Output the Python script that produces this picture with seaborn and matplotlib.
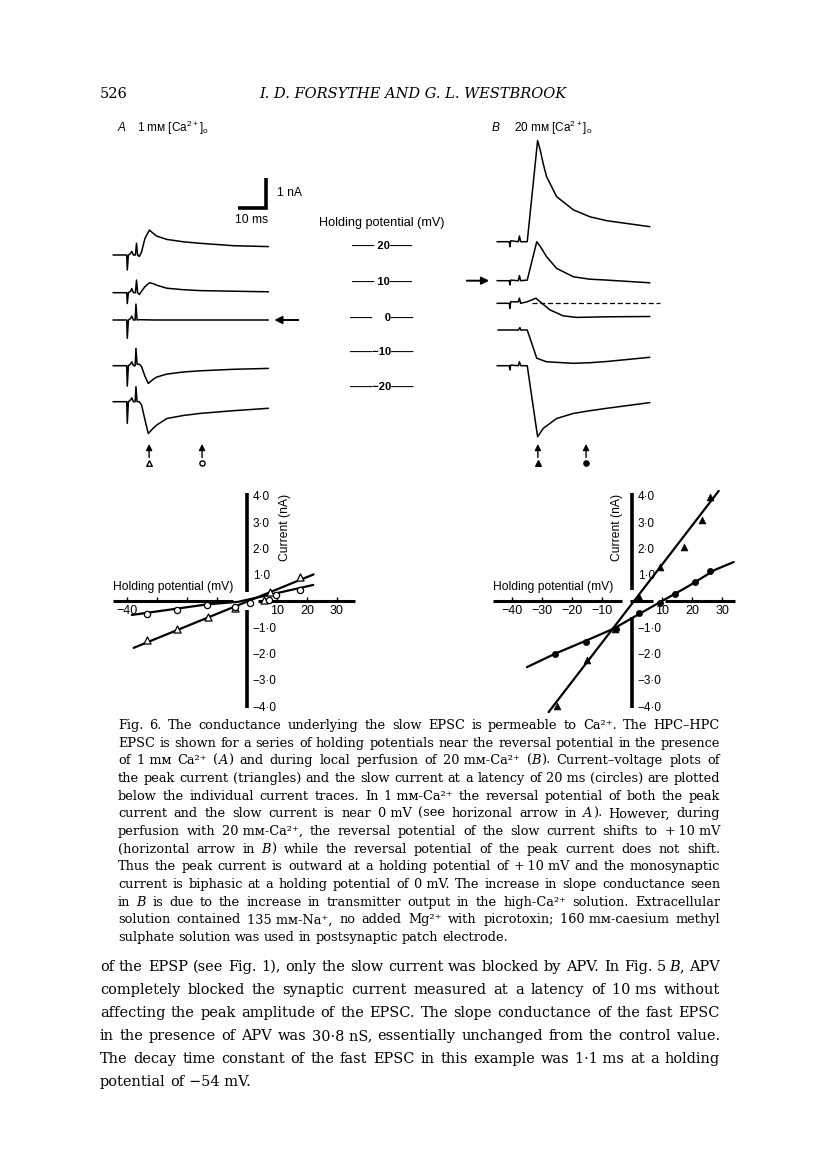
import numpy as np
import matplotlib
matplotlib.use("Agg")
import matplotlib.pyplot as plt
import seaborn as sns

sns.set_style("white")
plt.rcParams['font.family'] = ['Liberation Sans', 'DejaVu Sans']
plt.rcParams['mathtext.default'] = 'regular'
plt.rcParams['axes.unicode_minus'] = True
for k in ['text.color', 'axes.labelcolor', 'xtick.color', 'ytick.color']:
    plt.rcParams[k] = 'black'

# ---------------- data ----------------
HOLD_MV = [20, 10, 0, -10, -20]

# panel A traces, 1 mM Ca (time ms, current nA rel. to baseline)
A20_T = [0, 4.9, 5.1, 5.5, 6.3, 6.7, 7.3, 8.0, 8.4, 8.8, 9.4, 10.2, 11.4, 13.0, 14.4, 15.6, 19.2, 25.1, 31.1, 43.0, 55.5]
A20_I = [0, 0, -0.5, 0, 0.05, 0.12, 0, 0, 0.39, 0, -0.05, 0.1, 0.55, 0.83, 0.72, 0.63, 0.52, 0.44, 0.39, 0.31, 0.28]
A10_T = [0, 4.9, 5.1, 5.5, 6.3, 6.7, 7.3, 8.0, 8.4, 8.8, 9.4, 10.2, 11.4, 13.0, 14.4, 15.6, 19.2, 25.1, 31.1, 43.0, 55.5]
A10_I = [0, 0, -0.36, 0, 0.05, 0.14, 0, 0, 0.42, 0, -0.06, 0.05, 0.2, 0.33, 0.3, 0.25, 0.15, 0.1, 0.07, 0.05, 0.03]
A0_T = [0, 4.9, 5.1, 5.5, 6.3, 6.7, 7.3, 7.9, 8.2, 8.6, 9.4, 15.0, 25.0, 40.0, 55.5]
A0_I = [0, 0, -0.61, 0, 0.05, 0.13, 0, 0, 0.53, 0, 0.01, 0.0, 0.0, 0.0, 0.0]
AM10_T = [0, 4.9, 5.1, 5.5, 6.3, 6.7, 7.3, 7.9, 8.2, 8.6, 9.4, 10.2, 11.4, 12.6, 14.4, 15.6, 19.2, 25.1, 31.1, 43.0, 55.5]
AM10_I = [0, 0, -0.68, 0, 0.06, 0.13, 0, 0, 0.58, 0.05, 0.05, -0.03, -0.35, -0.59, -0.45, -0.38, -0.28, -0.21, -0.17, -0.12, -0.09]
AM20_T = [0, 4.9, 5.1, 5.5, 6.3, 6.7, 7.3, 7.9, 8.2, 8.6, 9.4, 10.2, 11.4, 12.6, 14.4, 15.6, 19.2, 25.1, 31.1, 43.0, 55.5]
AM20_I = [0, 0, -0.72, 0, 0.06, 0.13, 0, 0, 0.5, 0, 0, -0.11, -0.6, -1.06, -0.88, -0.78, -0.56, -0.46, -0.39, -0.3, -0.22]

# panel B traces, 20 mM Ca
B20_T = [0, 4.4, 4.6, 4.9, 7.6, 8.0, 8.45, 10.8, 14.5, 15.4, 16.5, 17.7, 21.3, 27.3, 33.2, 39.2, 54.6]
B20_I = [0, 0, -0.17, 0.03, 0, 0.19, 0, 0, 3.37, 3.07, 2.6, 2.17, 1.5, 1.06, 0.83, 0.7, 0.5]
B10_T = [0, 4.4, 4.6, 4.9, 7.6, 8.0, 8.45, 10.8, 14.2, 15.4, 17.7, 21.3, 27.3, 33.2, 39.2, 54.6]
B10_I = [0, 0, -0.14, 0.02, 0, 0.17, 0, 0.02, 1.3, 1.15, 0.8, 0.41, 0.13, 0.05, 0.02, -0.07]
B0_T = [0, 4.4, 4.6, 4.9, 7.6, 8.0, 8.45, 10.8, 13.9, 15.4, 18.9, 23.7, 28.5, 39.2, 54.6]
B0_I = [0, 0, -0.17, 0.05, 0.05, 0.17, 0, 0.05, 0.17, 0.05, -0.22, -0.42, -0.47, -0.45, -0.44]
BM10_T = [0.3, 7.6, 8.2, 8.45, 10.8, 12.4, 14.2, 17.7, 27.3, 33.2, 39.2, 54.6]
BM10_I = [0, 0, 0.08, 0, 0, -0.44, -0.94, -1.06, -1.11, -1.09, -1.05, -0.91]
BM20_T = [0, 4.4, 4.6, 4.9, 7.6, 8.0, 8.45, 10.8, 14.5, 16.5, 21.3, 27.3, 33.2, 39.2, 54.6]
BM20_I = [0, 0, -0.14, 0.02, 0, 0.13, 0, 0, -2.37, -2.09, -1.76, -1.59, -1.5, -1.42, -1.23]

# measurement latencies marked by arrows (ms on the trace time base)
A_PEAK_T, A_SLOW_T = 12.9, 31.8
B_PEAK_T, B_SLOW_T = 14.6, 31.8

# current-voltage data (mV, nA)
IVA_TRI_V = [-33.3, -23.3, -13.1, -3.9, 5.6, 7.8, 17.6]
IVA_TRI_I = [-1.47, -1.05, -0.61, -0.25, 0.05, 0.35, 0.91]
IVA_CIR_V = [-33.3, -23.3, -13.3, -3.9, 1.1, 7.2, 9.8, 17.8]
IVA_CIR_I = [-0.51, -0.35, -0.16, -0.22, -0.08, 0.05, 0.22, 0.41]
IVA_TRI_FIT_V = [-37.8, 22.2]
IVA_TRI_FIT_I = [-1.78, 1.01]
IVA_CIR_FIT_V = [-38.4, -13.4, -2.9, 22.1]
IVA_CIR_FIT_I = [-0.53, -0.13, -0.03, 0.61]

IVB_TRI_V = [-25.0, -15.0, -5.6, 2.2, 9.4, 17.4, 23.3, 26.1]
IVB_TRI_I = [-4.0, -2.25, -1.05, 0.15, 1.29, 2.05, 3.06, 3.95]
IVB_CIR_V = [-25.6, -15.2, -5.2, 2.2, 9.4, 14.2, 21.1, 25.9]
IVB_CIR_I = [-2.03, -1.56, -1.05, -0.46, -0.08, 0.28, 0.72, 1.14]
IVB_TRI_FIT_V = [-27.8, 28.9]
IVB_TRI_FIT_I = [-4.22, 4.18]
IVB_CIR_FIT_V = [-35.0, -25.6, -15.0, -6.1, 0.6, 9.4, 18.3, 27.8, 33.9]
IVB_CIR_FIT_I = [-2.51, -2.0, -1.49, -1.05, -0.61, -0.04, 0.53, 1.19, 1.48]

IV_YTICKS = [-4, -3, -2, -1, 1, 2, 3, 4]
IVA_XTICKS = [-40, -30, -20, -10, 10, 20, 30]
IVA_XLABELS = ['\u221240', '', '', '', '10', '20', '30']
IVB_XTICKS = [-40, -30, -20, -10, 10, 20, 30]
IVB_XLABELS = ['\u221240', '\u221230', '\u221220', '\u221210', '10', '20', '30']

CAPTION = [
    "Fig. 6. The conductance underlying the slow EPSC is permeable to Ca\u00b2\u207a. The HPC\u2013HPC",
    "EPSC is shown for a series of holding potentials near the reversal potential in the presence",
    "of 1\u00a0m\u043c Ca\u00b2\u207a (_A_) and during local perfusion of 20\u00a0m\u043c-Ca\u00b2\u207a (_B_). Current\u2013voltage plots of",
    "the peak current (triangles) and the slow current at a latency of 20\u00a0ms (circles) are plotted",
    "below the individual current traces. In 1\u00a0m\u043c-Ca\u00b2\u207a the reversal potential of both the peak",
    "current and the slow current is near 0\u00a0mV (see horizonal arrow in _A_). However, during",
    "perfusion with 20\u00a0m\u043c-Ca\u00b2\u207a, the reversal potential of the slow current shifts to +\u200910\u00a0mV",
    "(horizontal arrow in _B_) while the reversal potential of the peak current does not shift.",
    "Thus the peak current is outward at a holding potential of +\u200910\u00a0mV and the monosynaptic",
    "current is biphasic at a holding potential of 0\u00a0mV. The increase in slope conductance seen",
    "in _B_ is due to the increase in transmitter output in the high-Ca\u00b2\u207a solution. Extracellular",
    "solution contained 135\u00a0m\u043c-Na\u207a, no added Mg\u00b2\u207a with picrotoxin; 160\u00a0m\u043c-caesium methyl",
    "sulphate solution was used in postsynaptic patch electrode.",
]
BODY = [
    "of the EPSP (see Fig. 1), only the slow current was blocked by APV. In Fig. 5\u2009_B_, APV",
    "completely blocked the synaptic current measured at a latency of 10\u00a0ms without",
    "affecting the peak amplitude of the EPSC. The slope conductance of the fast EPSC",
    "in the presence of APV was 30\u00b78\u00a0nS, essentially unchanged from the control value.",
    "The decay time constant of the fast EPSC in this example was 1\u00b71\u00a0ms at a holding",
    "potential of \u221254\u00a0mV.",
]

# ---------------- page layout (pixels) ----------------
W, H = 816, 1173
fig = plt.figure(figsize=(W / 100, H / 100), dpi=100)
fig.patch.set_facecolor('white')
renderer = fig.canvas.get_renderer()


def px_axes(x0, y0, x1, y1):
    ax = fig.add_axes([x0 / W, 1 - y1 / H, (x1 - x0) / W, (y1 - y0) / H])
    ax.patch.set_alpha(0)
    return ax


def ftext(x, y, s, **kw):
    return fig.text(x / W, 1 - y / H, s, **kw)


def twidth(s, size, style, family):
    t = fig.text(0, 0, s, fontsize=size, style=style, family=family)
    w = t.get_window_extent(renderer).width
    t.remove()
    return w


def runs_of(word):
    parts = word.split('_')
    return [(p, 'italic' if i % 2 else 'normal') for i, p in enumerate(parts) if p]


def paragraph(lines, x0, x1, y0, dy, family):
    # pick one size so that the widest line fits, then justify each line
    nat = []
    for ln in lines[:-1]:
        ws = [sum(twidth(r, 10, st, family) for r, st in runs_of(w)) for w in ln.split(' ')]
        sp = twidth('a a', 10, 'normal', family) - twidth('aa', 10, 'normal', family)
        nat.append(sum(ws) + sp * (len(ws) - 1))
    size = 10 * (x1 - x0) / max(nat) * 0.995
    sp = twidth('a a', size, 'normal', family) - twidth('aa', size, 'normal', family)
    for k, ln in enumerate(lines):
        words = [runs_of(w) for w in ln.split(' ')]
        widths = [[twidth(r, size, st, family) for r, st in w] for w in words]
        tot = sum(sum(ws) for ws in widths)
        last = k == len(lines) - 1
        gap = sp if last else (x1 - x0 - tot) / (len(words) - 1)
        x = x0
        y = y0 + k * dy
        for w, ws in zip(words, widths):
            for (r, st), rw in zip(w, ws):
                ftext(x, y, r, fontsize=size, style=st, family=family, va='baseline')
                x += rw
            x += gap


# ---------------- header ----------------
SERIF = 'DejaVu Serif'
ftext(100, 98, '526', fontsize=10.5, family=SERIF, va='baseline')
ftext(413, 98, 'I. D. FORSYTHE AND G. L. WESTBROOK', fontsize=10.5, family=SERIF,
      style='italic', ha='center', va='baseline')

# ---------------- current traces ----------------
LBL = 8.7


def trace_axes(x0, x1, t0_px, base_px):
    ax = px_axes(x0, 120, x1, 480)
    ax.set_xlim((x0 - t0_px) / 2.8, (x1 - t0_px) / 2.8)   # 2.8 px per ms
    ax.set_ylim(0, 12)                                      # 30 px per nA
    ax.set_axis_off()
    offs = [(480 - b) / 30 for b in base_px]
    return ax, offs


axA, offA = trace_axes(100, 320, 113, [255, 292.7, 320, 365.7, 401.7])
for (t, i), off in zip([(A20_T, A20_I), (A10_T, A10_I), (A0_T, A0_I),
                        (AM10_T, AM10_I), (AM20_T, AM20_I)], offA):
    sns.lineplot(x=t, y=np.array(i) + off, ax=axA, color='k', lw=1.1,
                 estimator=None, sort=False)

# scale bar 10 ms / 1 nA
axA.plot([44.6, 54.6, 54.6], [9.07, 9.07, 10.07], color='k', lw=2.6,
         solid_joinstyle='miter', solid_capstyle='butt')
axA.text(58.5, 9.55, '1 nA', fontsize=LBL, va='center', ha='left')
axA.text(49.6, 8.68, '10 ms', fontsize=LBL, va='center', ha='center')

axB, offB = trace_axes(440, 680, 497, [241.7, 280.7, 303.3, 330, 365.7])
for (t, i), off in zip([(B20_T, B20_I), (B10_T, B10_I), (B0_T, B0_I),
                        (BM10_T, BM10_I), (BM20_T, BM20_I)], offB):
    sns.lineplot(x=t, y=np.array(i) + off, ax=axB, color='k', lw=1.1,
                 estimator=None, sort=False)
axB.hlines(offB[2], 12.5, 58.2, colors='k', lw=0.9, linestyles=(0, (4, 2.2)))

arrow = dict(arrowstyle='-|>', color='k', lw=1.0, mutation_scale=9, shrinkA=0, shrinkB=0)
for ax, tp, ts, filled in [(axA, A_PEAK_T, A_SLOW_T, False), (axB, B_PEAK_T, B_SLOW_T, True)]:
    for tt, mk in [(tp, '^'), (ts, 'o')]:
        ax.annotate('', xy=(tt, 1.2), xytext=(tt, 0.75), arrowprops=arrow)
        ax.scatter([tt], [0.55], marker=mk, s=16 if mk == '^' else 14,
                   facecolor='k' if filled else 'white', edgecolor='k', lw=1.0)

axA.annotate('', xy=(57.6, offA[2]), xytext=(66.2, offA[2]),
             arrowprops=dict(arrowstyle='-|>', color='k', lw=1.4, mutation_scale=11,
                             shrinkA=0, shrinkB=0))
axB.annotate('', xy=(-2.8, offB[1]), xytext=(-10.8, offB[1]),
             arrowprops=dict(arrowstyle='-|>', color='k', lw=1.4, mutation_scale=11,
                             shrinkA=0, shrinkB=0))

# panel titles
ftext(118, 128, 'A', fontsize=8.5, style='italic', va='center')
ftext(137, 128, '1 m\u043c [Ca$^{2+}$]$_{o}$', fontsize=8.5, va='center')
ftext(492, 128, 'B', fontsize=8.5, style='italic', va='center')
ftext(514, 128, '20 m\u043c [Ca$^{2+}$]$_{o}$', fontsize=8.5, va='center')

# holding potential key
ftext(382, 223, 'Holding potential (mV)', fontsize=9.1, ha='center', va='center')
for v, y in zip(HOLD_MV, [246, 282, 318, 352, 387]):
    s = str(v).replace('-', '\u2212')
    if v > 0:
        s = ' ' + s
    elif v == 0:
        s = '    0'
    ftext(382, y, '\u2014\u2014' + s + '\u2014\u2014', fontsize=8, fontweight='bold',
          ha='center', va='center')

# ---------------- current-voltage plots ----------------


def iv_axes(x0, x1, yax_px, xsegs, ysegs, xticks, xlabels):
    ax = px_axes(x0, 488, x1, 715)
    ax.set_xlim((x0 - yax_px) / 3, (x1 - yax_px) / 3)       # 3 px per mV
    ax.set_ylim((601 - 715) / 26.33, (601 - 488) / 26.33)   # 26.3 px per nA
    for s in ['top', 'left']:
        ax.spines[s].set_visible(False)
    ax.spines['right'].set_position(('data', 0))
    ax.spines['bottom'].set_position(('data', 0))
    ax.spines['right'].set_color('none')
    ax.spines['bottom'].set_color('none')
    for a, b in xsegs:
        ax.hlines(0, a, b, colors='k', lw=2.2, capstyle='butt')
    for a, b in ysegs:
        ax.vlines(0, a, b, colors='k', lw=2.6, capstyle='butt')
    ax.yaxis.tick_right()
    ax.set_yticks(IV_YTICKS)
    ax.set_yticklabels([f'{v:.1f}'.replace('.', '\u00b7').replace('-', '\u2212') for v in IV_YTICKS])
    ax.tick_params(axis='y', length=0, pad=4, labelsize=8.5)
    ax.xaxis.tick_bottom()
    ax.set_xticks(xticks)
    ax.set_xticklabels(xlabels)
    ax.tick_params(axis='x', direction='in', length=3, width=1, pad=3, labelsize=9)
    ax.set_xlabel('')
    ax.set_ylabel('')
    ax.grid(False)
    return ax


ivA = iv_axes(105, 365, 247, [(-44.7, -4.8), (3.5, 36)], [(0.35, 4.1), (-4.05, -0.35)],
              IVA_XTICKS, IVA_XLABELS)
sns.lineplot(x=IVA_TRI_FIT_V, y=IVA_TRI_FIT_I, ax=ivA, color='k', lw=1.6, estimator=None, sort=False)
sns.lineplot(x=IVA_CIR_FIT_V, y=IVA_CIR_FIT_I, ax=ivA, color='k', lw=1.6, estimator=None, sort=False)
sns.scatterplot(x=IVA_TRI_V, y=IVA_TRI_I, ax=ivA, marker='^', s=26, color='white',
                edgecolor='k', linewidth=0.9, zorder=4)
sns.scatterplot(x=IVA_CIR_V, y=IVA_CIR_I, ax=ivA, marker='o', s=20, color='white',
                edgecolor='k', linewidth=0.9, zorder=4)

ivB = iv_axes(485, 745, 632, [(-46.3, -3.3), (-0.7, 7.0), (11.0, 34.3)],
              [(0.42, 4.1), (-4.05, -0.61)], IVB_XTICKS, IVB_XLABELS)
sns.lineplot(x=IVB_TRI_FIT_V, y=IVB_TRI_FIT_I, ax=ivB, color='k', lw=1.6, estimator=None, sort=False)
sns.lineplot(x=IVB_CIR_FIT_V, y=IVB_CIR_FIT_I, ax=ivB, color='k', lw=1.6, estimator=None, sort=False)
sns.scatterplot(x=IVB_TRI_V, y=IVB_TRI_I, ax=ivB, marker='^', s=24, color='k',
                edgecolor='k', linewidth=0.5, zorder=4)
sns.scatterplot(x=IVB_CIR_V, y=IVB_CIR_I, ax=ivB, marker='o', s=20, color='k',
                edgecolor='k', linewidth=0.5, zorder=4)

ftext(285, 527, 'Current (nA)', fontsize=LBL, rotation=90, ha='center', va='center')
ftext(617, 527, 'Current (nA)', fontsize=LBL, rotation=90, ha='center', va='center')
ftext(113, 587, 'Holding potential (mV)', fontsize=LBL, ha='left', va='center')
ftext(493, 587, 'Holding potential (mV)', fontsize=LBL, ha='left', va='center')

# ---------------- caption and running text ----------------
paragraph(CAPTION, 118, 720, 729, 17.67, SERIF)
paragraph(BODY, 100, 720, 971, 23.0, SERIF)

fig.savefig('out.png', dpi=100, facecolor='white')
